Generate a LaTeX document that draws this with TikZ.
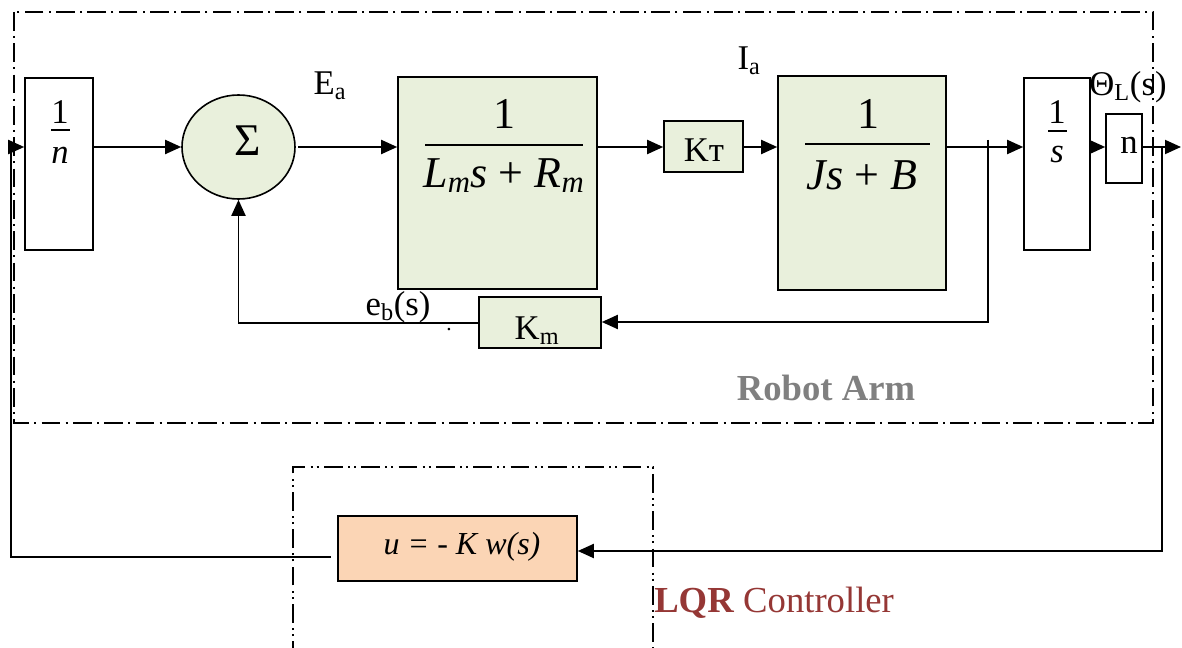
\documentclass[tikz,border=0pt]{standalone}
\usepackage{fontspec}
\setmainfont{Liberation Serif}
\usetikzlibrary{shapes.geometric,arrows.meta}
\definecolor{blk}{RGB}{233,240,220}
\definecolor{peach}{RGB}{251,213,181}
\definecolor{lqrred}{RGB}{149,55,53}
\definecolor{armgray}{RGB}{128,128,128}
\begin{document}
\begin{tikzpicture}[x=0.75pt,y=-0.75pt,
  sz/.style 2 args={minimum width=#1*0.75pt, minimum height=#2*0.75pt},
  blockbox/.style={draw, line width=1.2pt, inner sep=0pt, rectangle},
  greenbox/.style={blockbox, fill=blk},
  arr/.style={line width=1.4pt, -{Triangle[length=12pt,width=10.5pt]}},
  wire/.style={line width=1.4pt},
  dashdot/.style={line width=0.9pt, dash pattern=on 14pt off 4pt on 1.5pt off 4pt},
  dashdotdot/.style={line width=0.9pt, dash pattern=on 14pt off 4pt on 1.5pt off 3pt on 1.5pt off 4pt},
  lbl/.style={inner sep=0pt, font=\fontsize{26}{30}\selectfont},
  bigfrac/.style={inner sep=0pt, font=\fontsize{33}{38}\selectfont},
  smallfrac/.style={inner sep=0pt, font=\fontsize{26}{30}\selectfont},
  fracbar/.style={line width=1.2pt},
]
\useasboundingbox (0,0) rectangle (1182,648);
% frames
\draw[dashdot] (14,12) rectangle (1153,423);
\draw[dashdotdot] (293,660) -- (293,467) -- (653,467) -- (653,660);
% blocks
\node[blockbox, sz={68}{172}] (n1) at (59,164) {};
\node[draw, ellipse, fill=blk, line width=1.2pt, inner sep=0pt, sz={113}{104}] (sum) at (238.5,147) {};
\node[greenbox, sz={199}{212}] (b1) at (497.5,183) {};
\node[greenbox, sz={79}{51}] (kt) at (703.5,146.5) {};
\node[greenbox, sz={168}{214}] (b2) at (862,183) {};
\node[blockbox, sz={66}{172}] (bs) at (1057,164) {};
\node[blockbox, sz={36}{69}] (bn) at (1124,148.5) {};
\node[greenbox, sz={122}{51}] (km) at (540,322.5) {};
\node[blockbox, fill=peach, sz={239}{65}] (lqr) at (457.5,548.5) {};
% block contents
\node[smallfrac] (n1num) at (60,112) {1};
\draw[fracbar] (51,130) -- (70,130);
\node[smallfrac] (n1den) at (60,155) {\textit{n}};
\node[inner sep=0pt, font=\fontsize{34}{36}\selectfont] (sig) at (248,141) {Σ};
\node[bigfrac] (b1num) at (504,114) {1};
\draw[fracbar] (425,145) -- (583,145);
\node[bigfrac] (b1den) at (504,176) {\textit{L}\textsubscript{\textit{m}}\textit{s} + \textit{R}\textsubscript{\textit{m}}};
\node[bigfrac] (b2num) at (868,114) {1};
\draw[fracbar] (805,144) -- (930,144);
\node[bigfrac] (b2den) at (862,175) {\textit{Js} + \textit{B}};
\node[smallfrac] (bsnum) at (1057,112) {1};
\draw[fracbar] (1048,131) -- (1067,131);
\node[smallfrac] (bsden) at (1057,155) {\textit{s}};
\node[lbl] (bntext) at (1129,145) {n};
\node[lbl] (kttext) at (704,150) {Kт};
\node[lbl] (kmtext) at (537,331) {K\textsubscript{m}};
\node[lbl, font=\fontsize{24}{28}\selectfont\itshape] (lqrtext) at (462,547) {u = - K w(s)};
% labels
\node[lbl] (ea) at (330,86) {E\textsubscript{a}};
\node[lbl] (ia) at (749,61) {I\textsubscript{a}};
\node[lbl] (thl) at (1128,87) {Θ\textsubscript{L}(s)};
\node[lbl] (eb) at (398,307) {e\textsubscript{b}(s)};
\node[lbl, font=\fontsize{16}{16}\selectfont] (dot) at (449,330) {.};
\node[inner sep=0pt, font=\fontsize{27.5}{30}\selectfont\bfseries, text=armgray] (robot) at (826,388) {Robot Arm};
\node[inner sep=0pt, anchor=west, font=\fontsize{27.5}{30}\selectfont, text=lqrred] (lqrlbl) at (654,603) {\textbf{LQR} Controller};
% connectors
\coordinate (m) at (0,147);
\coordinate (lin) at (11,147);
\coordinate (lbot) at (11,557);
\coordinate (out) at (1181,147);
\coordinate (br1) at (988,140);
\coordinate (br1bot) at (988,322);
\coordinate (fb) at (238.5,323);
\coordinate (br2) at (1162,147);
\coordinate (br2bot) at (1162,551);
\draw[arr, shorten <=5pt] (lqr.west |- lbot) -- (lbot) -- (lin) -- (n1.west |- m);
\draw[arr] (n1.east |- m) -- (sum.west);
\draw[arr, shorten <=2pt] (sum.east) -- (b1.west |- m);
\draw[arr] (b1.east |- m) -- (kt.west |- m);
\draw[arr] (kt.east |- m) -- (b2.west |- m);
\draw[arr] (b2.east |- m) -- (bs.west |- m);
\draw[arr] (bs.east |- m) -- (bn.west |- m);
\draw[arr] (bn.east |- m) -- (out);
\draw[arr] (br1) -- (br1bot) -- (km.east |- br1bot);
\draw[arr] (km.west |- fb) -- (fb) -- (sum.south);
\draw[arr] (br2) -- (br2bot) -- (lqr.east |- br2bot);
\end{tikzpicture}
\end{document}
